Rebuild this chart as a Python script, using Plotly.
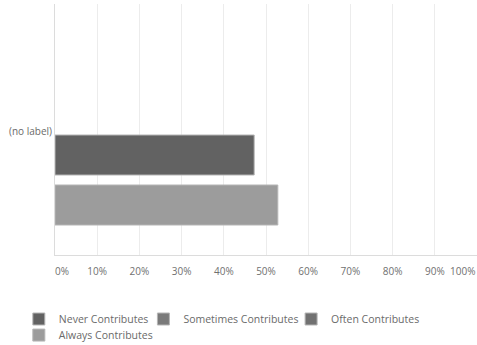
import plotly.graph_objects as go

# Share of responses per contribution level
category = ["(no label)"]
series_names = ["Never Contributes", "Sometimes Contributes", "Often Contributes", "Always Contributes"]
series_values = [[47.2], [None], [None], [52.8]]
series_colors = ["#626262", "#7a7a7a", "#717171", "#9c9c9c"]

tick_vals = [0, 10, 20, 30, 40, 50, 60, 70, 80, 90, 100]
tick_labels = [f"{v}%" for v in tick_vals]

# vertical placement of each bar inside the category band (offset, width)
bar_offsets = [-0.44, None, None, -0.94]
# each legend entry gets its own box so the row can flow like a wrapped list
legend_ids = ["legend", "legend2", "legend3", "legend4"]
legend_pos = [(-0.0857, -0.255), (0.2095, -0.255), (0.5595, -0.255), (-0.0857, -0.319)]

# nudge the end labels inward so they stay inside the page
FS = "\u2007"
tick_text = list(tick_labels)
tick_text[0] = FS * 2 + "\u00a0" + tick_text[0]
tick_text[-1] = tick_text[-1] + FS * 5

font_family = "Open Sans, Lato, DejaVu Sans, sans-serif"

fig = go.Figure()
for name, vals, color, off, lg in zip(series_names, series_values, series_colors, bar_offsets, legend_ids):
    kw = {}
    if off is not None:
        kw = dict(offset=off, width=0.4)
    fig.add_trace(go.Bar(
        name=name,
        x=vals,
        y=category,
        orientation="h",
        legend=lg,
        marker=dict(color=color, line=dict(color="#b5b5b5", width=1)),
        **kw,
    ))

legend_common = dict(
    orientation="h",
    xref="paper",
    yref="paper",
    xanchor="left",
    yanchor="middle",
    itemwidth=30,
    font=dict(size=10.5, color="#6a6a6a"),
    bgcolor="rgba(0,0,0,0)",
)
legend_layout = {
    lg: dict(x=x, y=y, **legend_common) for lg, (x, y) in zip(legend_ids, legend_pos)
}

fig.update_layout(
    width=477,
    height=345,
    margin=dict(l=55, r=0, t=4, b=90, autoexpand=False),
    paper_bgcolor="white",
    plot_bgcolor="white",
    barmode="overlay",
    font=dict(family=font_family, color="#6a6a6a", size=10),
    xaxis=dict(
        range=[0, 100],
        tickvals=tick_vals,
        ticktext=tick_text,
        showgrid=True,
        gridcolor="#ececec",
        gridwidth=1,
        zeroline=False,
        showline=True,
        linecolor="#dcdcdc",
        linewidth=1,
        ticks="",
        ticklabelstandoff=7,
        ticklabeloverflow="allow",
        automargin=False,
        tickfont=dict(size=10, color="#707070"),
        fixedrange=True,
    ),
    yaxis=dict(
        type="category",
        range=[-1.24, 1.27],
        showgrid=False,
        zeroline=False,
        showline=True,
        linecolor="#dcdcdc",
        linewidth=1,
        ticks="",
        automargin=False,
        tickfont=dict(size=10, color="#6a6a6a"),
        fixedrange=True,
    ),
    showlegend=True,
    **legend_layout,
)

fig.write_html("out.html")
